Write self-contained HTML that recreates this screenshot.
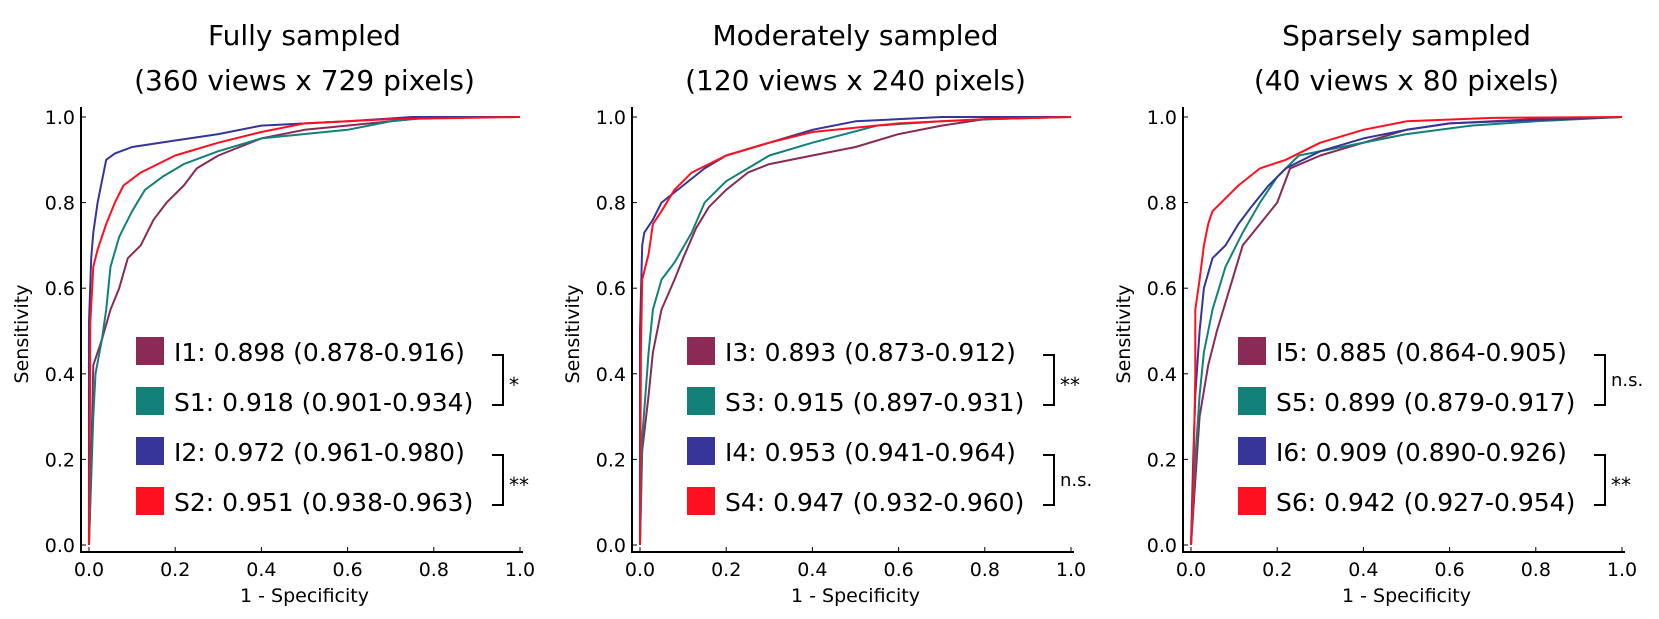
<!DOCTYPE html>
<html><head><meta charset="utf-8"><style>
html,body{margin:0;padding:0;background:#fff;}
svg{display:block;font-family:"DejaVu Sans","Liberation Sans",sans-serif;}
</style></head><body>
<svg id="chart" width="1659" height="619" viewBox="0 0 1659 619" xmlns="http://www.w3.org/2000/svg"></svg>
<script>
const panelTitles1 = ["Fully sampled","Moderately sampled","Sparsely sampled"];
const panelTitles2 = ["(360 views x 729 pixels)","(120 views x 240 pixels)","(40 views x 80 pixels)"];
const xTicks = [0,0.2,0.4,0.6,0.8,1.0];
const yTicks = [0,0.2,0.4,0.6,0.8,1.0];
const seriesColors = ["#8B2A55","#12817A","#35359A","#FF1020"];
const legendLabels = [
 ["I1: 0.898 (0.878-0.916)","S1: 0.918 (0.901-0.934)","I2: 0.972 (0.961-0.980)","S2: 0.951 (0.938-0.963)"],
 ["I3: 0.893 (0.873-0.912)","S3: 0.915 (0.897-0.931)","I4: 0.953 (0.941-0.964)","S4: 0.947 (0.932-0.960)"],
 ["I5: 0.885 (0.864-0.905)","S5: 0.899 (0.879-0.917)","I6: 0.909 (0.890-0.926)","S6: 0.942 (0.927-0.954)"]];
const sigLabels = [["*","**"],["**","n.s."],["n.s.","**"]];
// ROC series: [fpr, tpr] pairs
const p1_I1=[[0,0],[0.005,0.2],[0.01,0.42],[0.03,0.48],[0.05,0.55],[0.07,0.6],[0.09,0.67],[0.12,0.7],[0.15,0.76],[0.18,0.8],[0.22,0.84],[0.25,0.88],[0.3,0.91],[0.4,0.95],[0.5,0.97],[0.7,0.99],[0.8,1],[1,1]];
const p1_S1=[[0,0],[0.01,0.3],[0.015,0.4],[0.03,0.48],[0.04,0.55],[0.05,0.65],[0.07,0.72],[0.1,0.78],[0.13,0.83],[0.17,0.86],[0.22,0.89],[0.3,0.92],[0.4,0.95],[0.6,0.97],[0.7,0.99],[0.8,1],[1,1]];
const p1_I2=[[0,0],[0,0.52],[0.005,0.67],[0.01,0.73],[0.02,0.8],[0.03,0.85],[0.04,0.9],[0.06,0.915],[0.1,0.93],[0.2,0.945],[0.3,0.96],[0.4,0.98],[0.6,0.99],[0.75,1],[1,1]];
const p1_S2=[[0,0],[0.002,0.3],[0.003,0.52],[0.01,0.65],[0.02,0.69],[0.04,0.75],[0.06,0.8],[0.08,0.84],[0.12,0.87],[0.2,0.91],[0.3,0.94],[0.4,0.965],[0.5,0.985],[0.7,0.995],[1,1]];
const p2_I3=[[0,0],[0.005,0.22],[0.02,0.35],[0.03,0.45],[0.05,0.55],[0.08,0.62],[0.1,0.67],[0.13,0.74],[0.16,0.79],[0.2,0.83],[0.25,0.87],[0.3,0.89],[0.4,0.91],[0.5,0.93],[0.6,0.96],[0.7,0.98],[0.8,0.995],[1,1]];
const p2_S3=[[0,0],[0.005,0.25],[0.02,0.45],[0.03,0.55],[0.05,0.62],[0.08,0.66],[0.12,0.73],[0.15,0.8],[0.2,0.85],[0.25,0.88],[0.3,0.91],[0.4,0.94],[0.55,0.98],[0.7,0.99],[0.95,1]];
const p2_I4=[[0,0],[0,0.5],[0.005,0.7],[0.01,0.73],[0.03,0.76],[0.05,0.8],[0.1,0.84],[0.15,0.88],[0.2,0.91],[0.3,0.94],[0.4,0.97],[0.5,0.99],[0.7,1],[1,1]];
const p2_S4=[[0,0],[0.002,0.45],[0.005,0.62],[0.02,0.68],[0.03,0.75],[0.05,0.78],[0.08,0.83],[0.12,0.87],[0.2,0.91],[0.3,0.94],[0.4,0.965],[0.6,0.985],[0.8,0.995],[1,1]];
const p3_I5=[[0,0],[0.01,0.15],[0.02,0.3],[0.04,0.42],[0.06,0.5],[0.09,0.6],[0.12,0.7],[0.16,0.75],[0.2,0.8],[0.23,0.88],[0.3,0.91],[0.4,0.94],[0.5,0.97],[0.6,0.985],[0.8,0.995],[1,1]];
const p3_S5=[[0,0],[0.01,0.2],[0.02,0.35],[0.03,0.45],[0.05,0.55],[0.08,0.65],[0.12,0.73],[0.16,0.8],[0.2,0.86],[0.25,0.91],[0.35,0.93],[0.5,0.96],[0.65,0.98],[0.8,0.99],[1,1]];
const p3_I6=[[0,0],[0.005,0.2],[0.01,0.35],[0.02,0.5],[0.03,0.6],[0.05,0.67],[0.08,0.7],[0.11,0.75],[0.14,0.79],[0.18,0.84],[0.22,0.88],[0.3,0.92],[0.4,0.95],[0.5,0.97],[0.6,0.985],[0.8,0.993],[1,1]];
const p3_S6=[[0,0],[0.005,0.12],[0.01,0.4],[0.01,0.55],[0.02,0.62],[0.03,0.7],[0.04,0.75],[0.05,0.78],[0.08,0.81],[0.11,0.84],[0.16,0.88],[0.22,0.9],[0.3,0.94],[0.4,0.97],[0.5,0.99],[0.7,0.998],[1,1]];
const panelSeries=[[p1_I1,p1_S1,p1_I2,p1_S2],[p2_I3,p2_S3,p2_I4,p2_S4],[p3_I5,p3_S5,p3_I6,p3_S6]];

const NS="http://www.w3.org/2000/svg";
const svg=document.getElementById('chart');
function mk(tag,attrs,parent){const e=document.createElementNS(NS,tag);for(const k in attrs)e.setAttribute(k,attrs[k]);(parent||svg).appendChild(e);return e;}
const panelOffsets=[0,551,1102];
const bracketX=[503,1054,1605];
const Y0=545,Y1=117;
for(let p=0;p<3;p++){
  const off=panelOffsets[p];
  const X0=89+off,X1=520+off;
  const sx=v=>X0+v*(X1-X0);
  const sy=v=>Y0-v*(Y0-Y1);
  const g=mk('g',{});
  
  
  const cx=(X0+X1)/2;
  let t=mk('text',{x:cx,y:45,'text-anchor':'middle','font-size':28,fill:'#000'},g);t.textContent=panelTitles1[p];
  
  t=mk('text',{x:cx,y:90,'text-anchor':'middle','font-size':28,fill:'#000'},g);t.textContent=panelTitles2[p];
  
  let a=mk('line',{x1:X0-8,y1:107,x2:X0-8,y2:553,stroke:'#000','stroke-width':2},g);
  
  a=mk('line',{x1:X0-9,y1:552,x2:X1+3,y2:552,stroke:'#000','stroke-width':2},g);
  
  xTicks.forEach(v=>{
    mk('line',{x1:sx(v),y1:552,x2:sx(v),y2:547,stroke:'#000','stroke-width':1},g);
    const tl=mk('text',{x:sx(v),y:576,'text-anchor':'middle','font-size':19,fill:'#000'},g);
    tl.textContent=v.toFixed(1);
    
  });
  yTicks.forEach(v=>{
    mk('line',{x1:X0-8,y1:sy(v),x2:X0-3,y2:sy(v),stroke:'#000','stroke-width':1},g);
    const tl=mk('text',{x:X0-14,y:sy(v)+7,'text-anchor':'end','font-size':19,fill:'#000'},g);
    tl.textContent=v.toFixed(1);
    
  });
  t=mk('text',{x:cx,y:602,'text-anchor':'middle','font-size':19,fill:'#000'},g);t.textContent='1 - Specificity';
  
  t=mk('text',{x:0,y:0,'text-anchor':'middle','font-size':19,fill:'#000',transform:`translate(${X0-61},${(Y0+Y1)/2+3}) rotate(-90)`},g);t.textContent='Sensitivity';
  
  panelSeries[p].forEach((s,i)=>{
    let d='';
    s.forEach((pt,j)=>{d+=(j?'L':'M')+sx(pt[0]).toFixed(1)+','+sy(pt[1]).toFixed(1);});
    const path=mk('path',{d:d,fill:'none',stroke:seriesColors[i],'stroke-width':2,'stroke-linejoin':'round'},g);
    
    
  });
  const ly=[351,401,451,501];
  legendLabels[p].forEach((lab,i)=>{
    const r=mk('rect',{x:136+off,y:ly[i]-14,width:28,height:28,fill:seriesColors[i]},g);
    
    const lt=mk('text',{x:174+off,y:ly[i]+10,'font-size':25,fill:'#000'},g);lt.textContent=lab;
    
  });
  [[ly[0],ly[1]],[ly[2],ly[3]]].forEach((pr,k)=>{
    const bx=bracketX[p];
    const b=mk('path',{d:`M${bx-11},${pr[0]+4}H${bx}V${pr[1]+4}H${bx-11}`,fill:'none',stroke:'#000','stroke-width':2},g);
    
    const st=mk('text',{x:bx+6,y:(pr[0]+pr[1])/2+(sigLabels[p][k]==='n.s.'?10:16),'font-size':sigLabels[p][k]==='n.s.'?18:20,fill:'#000'},g);
    st.textContent=sigLabels[p][k];
    
  });
}
</script>
</body></html>
